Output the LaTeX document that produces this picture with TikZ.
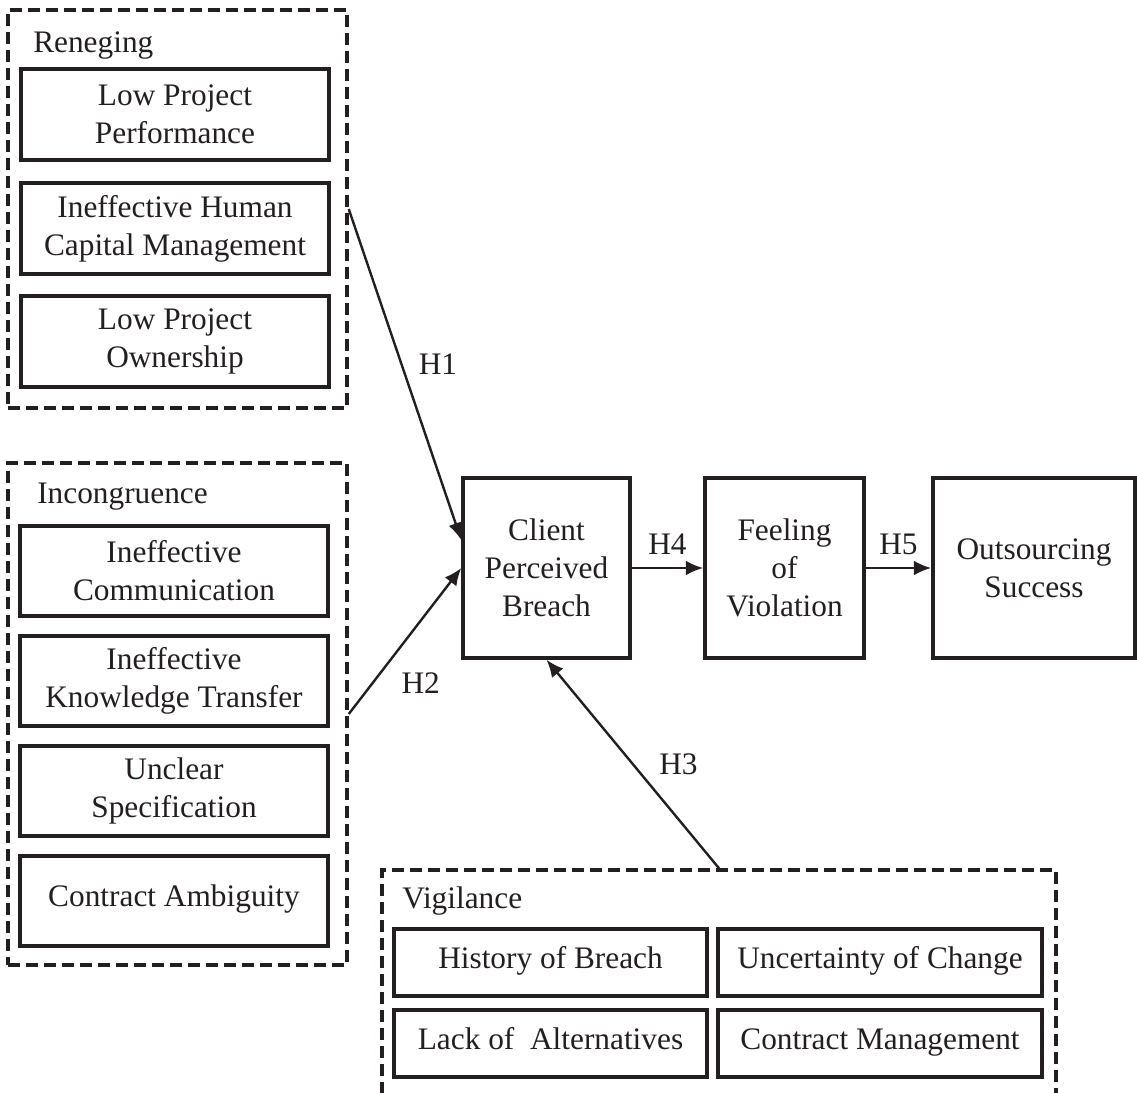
\documentclass[tikz,border=0pt]{standalone}
\usepackage{fontspec}
\setmainfont{Liberation Serif}
\usetikzlibrary{arrows.meta}
\usetikzlibrary{positioning}

\definecolor{ink}{HTML}{231F20}

\tikzset{
  box/.style={draw=ink, line width=2.6pt, text=ink, align=center, inner sep=0pt},
  onebox/.style={box, text height=0.85em, text depth=0pt},
  group/.style={draw=ink, line width=2.6pt, dash pattern=on 9pt off 4.5pt, inner sep=0pt},
  conn/.style={draw=ink, line width=1.8pt, -{Latex[length=13pt, width=11pt]}},
  hyp/.style={inner sep=2pt, text=ink},
  grouptitle/.style={anchor=base west, inner sep=0pt, text=ink}
}

\begin{document}
\begin{tikzpicture}[x=0.75pt, y=-0.75pt, font=\fontsize{23.5}{28.5}\selectfont]
    \useasboundingbox (0,0) rectangle (1137,1092);

    % Reneging
    \node[group, minimum width=254.25pt, minimum height=298.5pt] (reneging) at (177.5,209) {};
    \node[grouptitle] (renegingtitle) at (33,52) {Reneging};
    \node[box, minimum width=231pt, minimum height=68.25pt] (perf) at (175,114.5) {Low Project\\Performance};
    \node[box, minimum width=231pt, minimum height=68.25pt] (human) at (175,228.5) {Ineffective Human\\Capital Management};
    \node[box, minimum width=231pt, minimum height=68.25pt] (owner) at (175,341.5) {Low Project\\Ownership};

    % Incongruence
    \node[group, minimum width=254.25pt, minimum height=376.5pt] (incongruence) at (177.5,714) {};
    \node[grouptitle] (incongruencetitle) at (37,503) {Incongruence};
    \node[box, minimum width=231pt, minimum height=67.5pt] (comm) at (174,571) {Ineffective\\Communication};
    \node[box, minimum width=231pt, minimum height=67.5pt] (know) at (174,681) {Ineffective\\Knowledge Transfer};
    \node[box, minimum width=231pt, minimum height=67.5pt] (spec) at (174,791) {Unclear\\Specification};
    \node[onebox, minimum width=231pt, minimum height=67.5pt] (ambig) at (174,901) {Contract Ambiguity};

    % Vigilance
    \node[group, minimum width=505.5pt, minimum height=180pt] (vigilance) at (719,990) {};
    \node[grouptitle] (vigilancetitle) at (402,908) {Vigilance};
    \node[onebox, minimum width=234.75pt, minimum height=50.25pt] (history) at (550.5,962.5) {History of Breach};
    \node[onebox, minimum width=243pt, minimum height=50.25pt] (uncert) at (880,962.5) {Uncertainty of Change};
    \node[onebox, minimum width=234.75pt, minimum height=50.25pt] (lack) at (550.5,1043.5) {Lack of\ \ Alternatives};
    \node[onebox, minimum width=243pt, minimum height=50.25pt] (contract) at (880,1043.5) {Contract Management};

    % main chain
    \node[box, minimum width=125.25pt, minimum height=135pt] (client) at (546.5,568) {Client\\Perceived\\Breach};
    \node[box, minimum width=119.25pt, minimum height=135pt] (feeling) at (784.5,568) {Feeling\\of\\Violation};
    \node[box, minimum width=151.5pt, minimum height=135pt] (success) at (1034,568) {Outsourcing\\Success};

    % hypotheses
    \draw[conn] (reneging.east) -- node[hyp, pos=0.47, right=10pt] {H1} ([yshift=21pt]client.west);
    \draw[conn] (incongruence.east) -- node[hyp, pos=0.21, right=19pt] {H2} (client.west);
    \draw[conn] (vigilance.north) -- node[hyp, pos=0.5, right=17pt] {H3} (client.south);
    \draw[conn] (client.east) -- node[hyp, midway, above=7pt] {H4} (feeling.west);
    \draw[conn] (feeling.east) -- node[hyp, midway, above=7pt] {H5} (success.west);
\end{tikzpicture}
\end{document}
